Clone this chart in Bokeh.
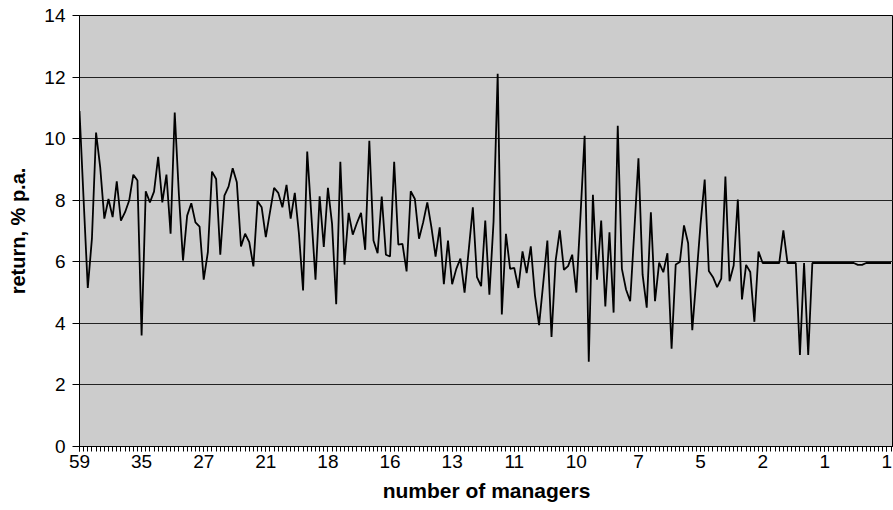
from bokeh.plotting import figure
from bokeh.models import Range1d, FixedTicker, ColumnDataSource
from bokeh.embed import file_html
from bokeh.resources import INLINE

# --- data -------------------------------------------------------------
returns = [
    10.9, 8.0, 5.15, 6.75, 10.2, 9.07, 7.4, 8.04, 7.45, 8.61,
    7.34, 7.61, 7.99, 8.83, 8.64, 3.61, 8.29, 7.93, 8.28, 9.41,
    7.93, 8.83, 6.91, 10.85, 8.2, 6.04, 7.5, 7.9, 7.28, 7.14,
    5.42, 6.31, 8.93, 8.69, 6.23, 8.15, 8.44, 9.04, 8.58, 6.5,
    6.91, 6.64, 5.85, 7.97, 7.77, 6.8, 7.61, 8.4, 8.24, 7.77,
    8.5, 7.4, 8.24, 6.91, 5.07, 9.58, 7.5, 5.42, 8.13, 6.48,
    8.4, 7.23, 4.62, 9.25, 5.91, 7.59, 6.88, 7.26, 7.59, 6.39,
    9.93, 6.69, 6.28, 8.12, 6.23, 6.17, 9.25, 6.56, 6.58, 5.69,
    8.29, 8.04, 6.75, 7.28, 7.93, 7.12, 6.17, 7.12, 5.27, 6.69,
    5.27, 5.77, 6.1, 5.0, 6.37, 7.77, 5.5, 5.21, 7.34, 4.93,
    7.3, 12.11, 4.29, 6.91, 5.77, 5.8, 5.15, 6.34, 5.63, 6.5,
    4.91, 3.94, 5.3, 6.69, 3.56, 6.04, 7.02, 5.74, 5.86, 6.23,
    5.0, 7.5, 10.09, 2.75, 8.18, 5.42, 7.34, 4.55, 6.96, 4.35,
    10.42, 5.77, 5.1, 4.72, 7.0, 9.36, 5.58, 4.51, 7.61, 4.72,
    5.97, 5.66, 6.28, 3.18, 5.91, 5.99, 7.18, 6.6, 3.78, 5.5,
    7.23, 8.67, 5.7, 5.5, 5.18, 5.45, 8.77, 5.37, 5.88, 8.02,
    4.78, 5.9, 5.67, 4.05, 6.33, 5.96, 5.96, 5.96, 5.96, 5.96,
    7.02, 5.96, 5.96, 5.96, 2.97, 5.96, 2.97, 5.96, 5.96, 5.96,
    5.96, 5.96, 5.96, 5.96, 5.96, 5.96, 5.96, 5.96, 5.9, 5.9,
    5.96, 5.96, 5.96, 5.96, 5.96, 5.96, 5.96,
]
categories = list(range(len(returns)))
label_positions = [0, 15, 30, 45, 60, 75, 90, 105, 120, 135, 150, 165, 180, 195]
label_texts = ["59", "35", "27", "21", "18", "16", "13", "11", "10", "7", "5", "2", "1", "1"]
y_ticks = [0, 2, 4, 6, 8, 10, 12, 14]

# --- figure -----------------------------------------------------------
FONT = "Liberation Sans"
p = figure(width=893, height=510, output_backend="svg", toolbar_location=None,
           x_range=Range1d(0, 196.6), y_range=Range1d(0, 14),
           min_border_left=79, min_border_right=0, min_border_top=15,
           min_border_bottom=64)
p.border_fill_color = "white"
p.background_fill_color = "#cccccc"
p.outline_line_color = "black"
p.outline_line_width = 1

src = ColumnDataSource(dict(x=categories, y=returns))
p.line("x", "y", source=src, line_color="black", line_width=1.8)

# grid
p.xgrid.grid_line_color = None
p.ygrid.grid_line_color = "#222222"
p.ygrid.grid_line_width = 1
p.ygrid.ticker = FixedTicker(ticks=y_ticks)

# y axis
p.yaxis.ticker = FixedTicker(ticks=y_ticks)
p.yaxis.axis_label = "return, % p.a."
p.yaxis.axis_label_text_font = FONT
p.yaxis.axis_label_text_font_style = "bold"
p.yaxis.axis_label_text_font_size = "20px"
p.yaxis.axis_label_text_color = "black"
p.yaxis.axis_label_standoff = 12
p.yaxis.major_label_text_font = FONT
p.yaxis.major_label_text_font_size = "19px"
p.yaxis.major_label_text_color = "black"
p.yaxis.major_label_standoff = 7
p.yaxis.major_tick_out = 7
p.yaxis.major_tick_in = 0
p.yaxis.minor_tick_out = 0
p.yaxis.minor_tick_in = 0
p.yaxis.axis_line_color = "black"
p.yaxis.major_tick_line_color = "black"

# x axis
p.xaxis.ticker = FixedTicker(ticks=label_positions, minor_ticks=categories)
p.xaxis.major_label_overrides = {pos: txt for pos, txt in zip(label_positions, label_texts)}
p.xaxis.axis_label = "number of managers"
p.xaxis.axis_label_text_font = FONT
p.xaxis.axis_label_text_font_style = "bold"
p.xaxis.axis_label_text_font_size = "21px"
p.xaxis.axis_label_text_color = "black"
p.xaxis.axis_label_standoff = 8
p.xaxis.major_label_text_font = FONT
p.xaxis.major_label_text_font_size = "19px"
p.xaxis.major_label_text_color = "black"
p.xaxis.major_label_standoff = 3
p.xaxis.major_tick_out = 5
p.xaxis.major_tick_in = 0
p.xaxis.minor_tick_out = 5
p.xaxis.minor_tick_in = 0
p.xaxis.axis_line_color = "black"
p.xaxis.major_tick_line_color = "black"
p.xaxis.minor_tick_line_color = "black"

open("out.html", "w").write(file_html(p, INLINE))
